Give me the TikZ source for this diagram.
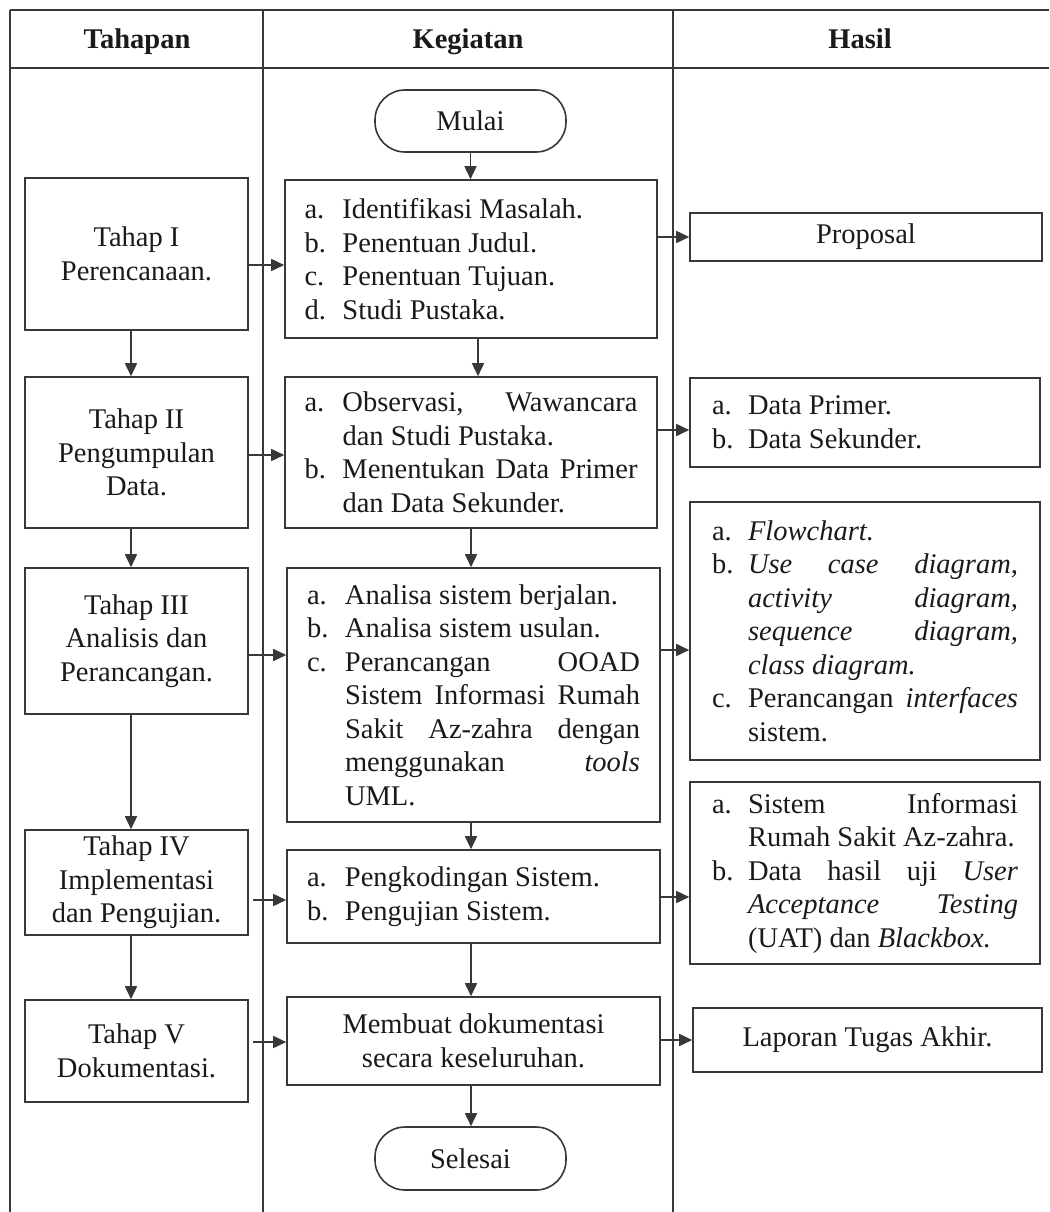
\documentclass[tikz,border=0pt]{standalone}
\usepackage{fontspec}
\setmainfont{Liberation Serif}
\usetikzlibrary{arrows.meta}
\definecolor{lc}{HTML}{383838}
\definecolor{tc}{HTML}{1A1A1A}
\newcommand\tf{\fontsize{28.5}{33.5}\selectfont}
\newcommand\mjline[2]{\makebox[38pt][l]{#1}\makebox[295pt][s]{#2}}
\newcommand\mlline[2]{\makebox[38pt][l]{#1}\makebox[295pt][l]{#2}}
\newcommand\rjline[2]{\makebox[36pt][l]{#1}\makebox[270pt][s]{#2}}
\newcommand\rlline[2]{\makebox[36pt][l]{#1}\makebox[270pt][l]{#2}}
\tikzset{
  tbl/.style={draw=lc, line width=1.6pt},
  bx/.style={draw=lc, line width=1.6pt, inner sep=0pt, font=\tf, text=tc, align=center},
  lbx/.style={bx, align=left},
  term/.style={bx, rounded corners=30pt},
  arr/.style={draw=lc, line width=1.6pt, -{Triangle[length=13pt,width=12pt]}},
  hd/.style={font=\tf\bfseries, text=tc, anchor=base}
}
\begin{document}
\begin{tikzpicture}[x=1pt,y=-1pt]
\useasboundingbox[fill=white] (0,0) rectangle (1049,1212);
% table
\draw[tbl] (10,10) -- (1049,10);
\draw[tbl] (10,68) -- (1049,68);
\draw[tbl] (10,10) -- (10,1212);
\draw[tbl] (263,10) -- (263,1212);
\draw[tbl] (673,10) -- (673,1212);
\node[hd] (h1) at (137,49) {Tahapan};
\node[hd] (h2) at (468,49) {Kegiatan};
\node[hd] (h3) at (860,49) {Hasil};
% left column
\node[bx, minimum width=223pt, minimum height=152pt] (L1) at (136.5,254) {Tahap I\\Perencanaan.};
\node[bx, minimum width=223pt, minimum height=151pt] (L2) at (136.5,452.5) {Tahap II\\Pengumpulan\\Data.};
\node[bx, minimum width=223pt, minimum height=146pt] (L3) at (136.5,641) {Tahap III\\Analisis dan\\Perancangan.};
\node[bx, minimum width=223pt, minimum height=105pt] (L4) at (136.5,882.5) {Tahap IV\\Implementasi\\dan Pengujian.};
\node[bx, minimum width=223pt, minimum height=102pt] (L5) at (136.5,1051) {Tahap V\\Dokumentasi.};
% middle column
\node[term, minimum width=191pt, minimum height=62pt] (S) at (470.5,121) {Mulai};
\node[lbx, minimum width=372pt, minimum height=158pt] (K1) at (471,259) {%
\mlline{a.}{Identifikasi Masalah.}\\
\mlline{b.}{Penentuan Judul.}\\
\mlline{c.}{Penentuan Tujuan.}\\
\mlline{d.}{Studi Pustaka.}};
\node[lbx, minimum width=372pt, minimum height=151pt] (K2) at (471,452.5) {%
\mjline{a.}{Observasi, Wawancara}\\
\mlline{}{dan Studi Pustaka.}\\
\mjline{b.}{Menentukan Data Primer}\\
\mlline{}{dan Data Sekunder.}};
\node[lbx, minimum width=373pt, minimum height=254pt] (K3) at (473.5,695) {%
\mlline{a.}{Analisa sistem berjalan.}\\
\mlline{b.}{Analisa sistem usulan.}\\
\mjline{c.}{Perancangan OOAD}\\
\mjline{}{Sistem Informasi Rumah}\\
\mjline{}{Sakit Az-zahra dengan}\\
\mjline{}{menggunakan \textit{tools}}\\
\mlline{}{UML.}};
\node[lbx, minimum width=373pt, minimum height=93pt] (K4) at (473.5,896.5) {%
\mlline{a.}{Pengkodingan Sistem.}\\
\mlline{b.}{Pengujian Sistem.}};
\node[bx, minimum width=373pt, minimum height=88pt] (K5) at (473.5,1041) {Membuat dokumentasi\\secara keseluruhan.};
\node[term, minimum width=191pt, minimum height=63pt] (E) at (470.5,1158.5) {Selesai};
% right column
\node[bx, minimum width=352pt, minimum height=48pt] (H1) at (866,237) {Proposal};
\node[lbx, minimum width=350pt, minimum height=89pt] (H2) at (865,422.5) {%
\rlline{a.}{Data Primer.}\\
\rlline{b.}{Data Sekunder.}};
\node[lbx, minimum width=350pt, minimum height=258pt] (H3) at (865,631) {%
\rlline{a.}{\textit{Flowchart.}}\\
\rjline{b.}{\textit{Use case diagram,}}\\
\rjline{}{\textit{activity diagram,}}\\
\rjline{}{\textit{sequence diagram,}}\\
\rlline{}{\textit{class diagram.}}\\
\rjline{c.}{Perancangan \textit{interfaces}}\\
\rlline{}{sistem.}};
\node[lbx, minimum width=350pt, minimum height=182pt] (H4) at (865,873) {%
\rjline{a.}{Sistem Informasi}\\
\rlline{}{Rumah Sakit Az-zahra.}\\
\rjline{b.}{Data hasil uji \textit{User}}\\
\rjline{}{\textit{Acceptance Testing}}\\
\rlline{}{(UAT) dan \textit{Blackbox.}}};
\node[bx, minimum width=349pt, minimum height=64pt] (H5) at (867.5,1040) {Laporan Tugas Akhir.};
% vertical arrows left
\draw[arr] (L1.south -| 131,0) -- (L2.north -| 131,0);
\draw[arr] (L2.south -| 131,0) -- (L3.north -| 131,0);
\draw[arr] (L3.south -| 131,0) -- (L4.north -| 131,0);
\draw[arr] (L4.south -| 131,0) -- (L5.north -| 131,0);
% vertical arrows middle
\draw[arr] (S.south) -- (S.south |- K1.north);
\draw[arr] (K1.south -| 478,0) -- (K2.north -| 478,0);
\draw[arr] (K2.south -| 471,0) -- (K3.north -| 471,0);
\draw[arr] (K3.south -| 471,0) -- (K4.north -| 471,0);
\draw[arr] (K4.south -| 471,0) -- (K5.north -| 471,0);
\draw[arr] (K5.south -| 471,0) -- (E.north -| 471,0);
% horizontal arrows left -> middle
\draw[arr] (L1.east |- 0,265) -- (K1.west |- 0,265);
\draw[arr] (L2.east |- 0,455) -- (K2.west |- 0,455);
\draw[arr] (L3.east |- 0,655) -- (K3.west |- 0,655);
\draw[arr] ([xshift=4pt]L4.east |- 0,900) -- (K4.west |- 0,900);
\draw[arr] ([xshift=4pt]L5.east |- 0,1042) -- (K5.west |- 0,1042);
% horizontal arrows middle -> right
\draw[arr] (K1.east |- 0,237) -- (H1.west |- 0,237);
\draw[arr] (K2.east |- 0,430) -- (H2.west |- 0,430);
\draw[arr] (K3.east |- 0,650) -- (H3.west |- 0,650);
\draw[arr] (K4.east |- 0,897) -- (H4.west |- 0,897);
\draw[arr] (K5.east |- 0,1040) -- (H5.west |- 0,1040);
\end{tikzpicture}
\end{document}
